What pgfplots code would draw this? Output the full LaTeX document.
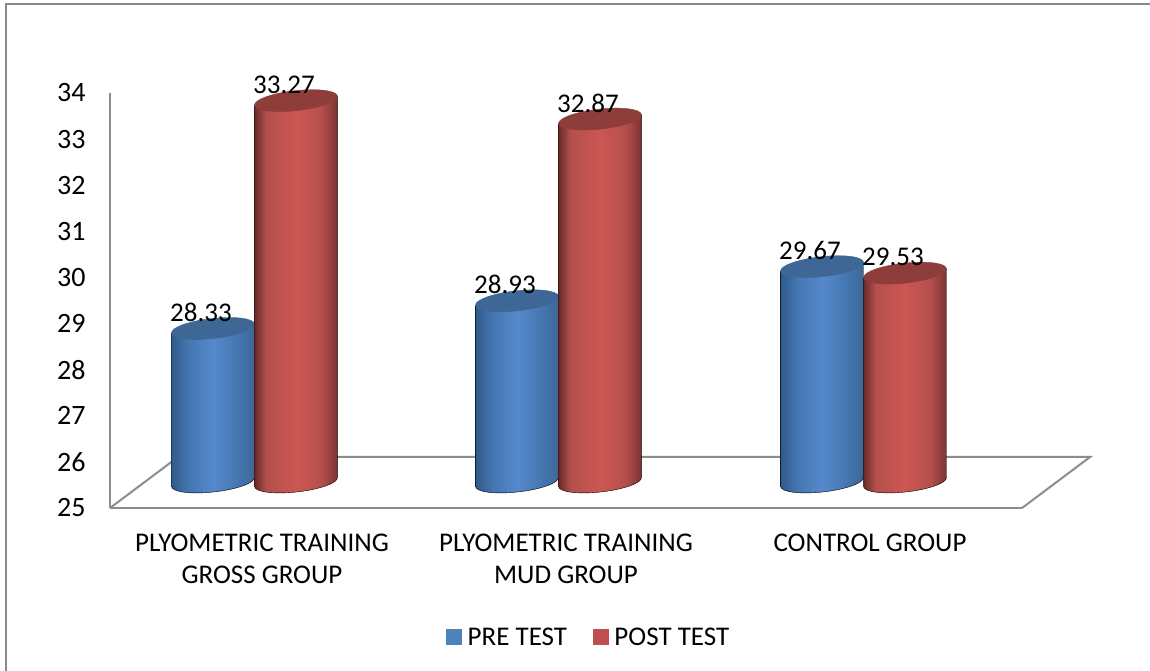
\documentclass[border=0pt]{standalone}
\usepackage{fontspec}
\setmainfont{Carlito}
\usepackage{pgfplots}
\pgfplotsset{compat=1.18}
\definecolor{frameg}{HTML}{8A8A8A}
\definecolor{axg}{HTML}{8C8C8C}
\definecolor{bluek}{HTML}{2F5B8C}
\definecolor{bluem}{HTML}{4476B0}
\definecolor{bluep}{HTML}{5589CB}
\definecolor{bluer}{HTML}{3D6697}
\definecolor{bluet}{HTML}{3E6795}
\definecolor{redk}{HTML}{682A28}
\definecolor{redm}{HTML}{B4504D}
\definecolor{redp}{HTML}{CD5653}
\definecolor{redr}{HTML}{7A3230}
\definecolor{redt}{HTML}{8E3D3B}
\definecolor{legb}{HTML}{4F81BD}
\definecolor{legr}{HTML}{C0504D}
\pgfdeclarehorizontalshading{cylb}{100bp}{color(0bp)=(bluek);color(25bp)=(bluek);color(35bp)=(bluem);color(50bp)=(bluep);color(65bp)=(bluem);color(75bp)=(bluer);color(100bp)=(bluer)}
\pgfdeclarehorizontalshading{cylr}{100bp}{color(0bp)=(redk);color(25bp)=(redk);color(32bp)=(redm);color(50bp)=(redp);color(65bp)=(redm);color(75bp)=(redr);color(100bp)=(redr)}
\newcommand{\cyl}[2]{%
  \pgfmathsetmacro\hh{(\rawy-25)*46.11}%
  \begin{scope}[x=1pt,y=1pt]
    \shade[shading=#1] (41.45,30.58) -- (-41.45,21.42) -- (-41.45,{21.42-\hh})
      .. controls (-40.84,{15.93-\hh}) and (-21.8,{13.53-\hh}) .. (1.1,{16.06-\hh})
      .. controls (24.0,{18.59-\hh}) and (42.06,{25.09-\hh}) .. (41.45,{30.58-\hh}) -- cycle;
    \fill[#2] (41.45,30.58)
      .. controls (40.84,36.07) and (21.8,38.47) .. (-1.1,35.94)
      .. controls (-24.0,33.41) and (-42.06,26.91) .. (-41.45,21.42)
      .. controls (-40.84,15.93) and (-21.8,13.53) .. (1.1,16.06)
      .. controls (24.0,18.59) and (42.06,25.09) .. (41.45,30.58) -- cycle;
  \end{scope}}
\pgfdeclareplotmark{cylblue}{\cyl{cylb}{bluet}}
\pgfdeclareplotmark{cylred}{\cyl{cylr}{redt}}
\begin{document}
\begin{tikzpicture}[x=1pt,y=1pt]
\useasboundingbox (0,0) rectangle (1150,671);
\fill[white] (0,0) rectangle (1150,671);
\draw[frameg,line width=2pt] (6,0) -- (6,667) -- (1150,667);
\begin{axis}[
  at={(110pt,163pt)}, anchor=south west,
  scale only axis, width=912pt, height=415pt,
  xmin=-0.5, xmax=2.5, ymin=25, ymax=34,
  clip=false,
  axis x line*=bottom, axis y line*=left,
  axis line style={axg,line width=2pt,-},
  major tick length=0pt,
  xtick={0,1,2},
  xticklabels={PLYOMETRIC TRAINING\\GROSS GROUP,PLYOMETRIC TRAINING\\MUD GROUP,CONTROL GROUP},
  xticklabel style={font=\fontsize{27}{32}\selectfont,align=center,anchor=north,yshift=-22pt},
  ytick distance=1,
  yticklabel style={font=\fontsize{28}{30}\selectfont,anchor=east,xshift=-21pt,/pgf/number format/assume math mode=true},
  nodes near coords,
  every node near coord/.append style={font=\fontsize{27}{30}\selectfont,anchor=center,xshift=-12pt,yshift=42pt,black,inner sep=0pt,
    /pgf/number format/fixed,/pgf/number format/fixed zerofill,/pgf/number format/precision=2,/pgf/number format/assume math mode=true},
  visualization depends on={rawy \as \rawy},
  legend style={at={(0.525,-0.311)},anchor=center,draw=none,fill=none,font=\fontsize{27}{30}\selectfont,
    legend columns=2,/tikz/every even column/.append style={column sep=24pt}},
]
% floor of the 3D plot
\addplot[axg,line width=2pt,forget plot,nodes near coords={},mark=none,line join=miter]
  coordinates {(-0.5,25) (-0.2763,26.106) (2.7237,26.106) (2.5,25)};
\addplot[only marks,mark=cylblue,legend image code/.code={\fill[legb] (0pt,-7.5pt) rectangle (15pt,7.5pt);\path (19pt,0pt);}]
  coordinates {(-0.1612,28.33) (0.8388,28.93) (1.8421,29.67)};
\addplot[only marks,mark=cylred,legend image code/.code={\fill[legr] (0pt,-7.5pt) rectangle (15pt,7.5pt);\path (19pt,0pt);}]
  coordinates {(0.1118,33.27) (1.1118,32.87) (2.1151,29.53)};
\legend{PRE TEST,POST TEST}
\end{axis}
\end{tikzpicture}
\end{document}
